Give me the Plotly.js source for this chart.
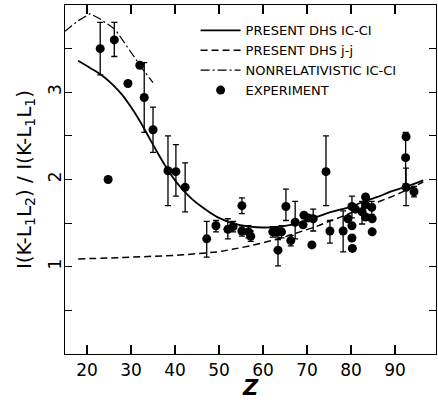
<!DOCTYPE html>
<html><head><meta charset="utf-8">
<script src="https://cdn.plot.ly/plotly-3.0.1.min.js"></script>
<style>html,body{margin:0;padding:0;background:#fff}#chart{width:438px;height:400px}</style>
</head><body><div id="chart"></div>
<script>
// Theory curves
const icciZ = [18, 20, 22, 24, 26, 28, 30, 32, 34, 36, 38, 40, 42, 44, 46, 48, 50, 53, 57, 60, 64, 68, 71, 75, 80, 83, 86, 89, 92.7, 96.4];
const icciV = [3.36, 3.30, 3.24, 3.17, 3.08, 2.97, 2.83, 2.67, 2.49, 2.31, 2.14, 1.99, 1.87, 1.77, 1.69, 1.62, 1.56, 1.50, 1.46, 1.45, 1.46, 1.50, 1.55, 1.62, 1.69, 1.75, 1.80, 1.86, 1.92, 1.99];
const jjZ = [18, 25, 30, 35, 40, 45, 49.5, 53, 57, 62, 66, 68.4, 72, 75, 78.2, 82, 86, 90, 93, 96.4];
const jjV = [1.09, 1.10, 1.11, 1.12, 1.13, 1.15, 1.17, 1.20, 1.24, 1.30, 1.36, 1.40, 1.46, 1.52, 1.58, 1.66, 1.74, 1.82, 1.89, 1.97];
const nrZ = [15, 18, 20.7, 23, 26.4, 30.5, 33, 35];
const nrV = [3.70, 3.82, 3.90, 3.84, 3.72, 3.42, 3.24, 3.11];

// Experiment
const expZ = [23, 24.8, 26.2, 29.3, 32, 33, 35, 38.4, 40.2, 42.3, 47.2, 49.3, 52, 53.2, 55.2, 55.2, 56.7, 57.2, 62.2, 63.4, 63.2, 64.2, 65.2, 66.3, 67.3, 69.1, 69.3, 70.3, 71.4, 71.1, 74.3, 75.2, 78.2, 79.3, 80.2, 81, 80.2, 80.2, 80.3, 82.5, 83.3, 83.3, 83.3, 84.7, 84.8, 84.8, 92.5, 92.4, 92.5, 94.3];
const expV = [3.50, 2.00, 3.60, 3.10, 3.31, 2.94, 2.57, 2.10, 2.09, 1.91, 1.32, 1.47, 1.43, 1.46, 1.70, 1.41, 1.40, 1.35, 1.40, 1.19, 1.40, 1.40, 1.69, 1.30, 1.51, 1.48, 1.59, 1.56, 1.55, 1.25, 2.09, 1.41, 1.41, 1.55, 1.69, 1.66, 1.47, 1.33, 1.21, 1.63, 1.80, 1.71, 1.57, 1.68, 1.55, 1.40, 2.49, 2.25, 1.91, 1.86];
const errUp = [0.30, null, 0.20, null, null, 0.40, 0.26, 0.40, 0.31, 0.28, 0.20, 0.06, 0.12, 0.06, 0.09, 0.06, 0.07, 0.06, 0.06, 0.12, 0.06, 0.07, 0.20, 0.06, 0.24, null, null, null, 0.11, null, 0.41, 0.12, 0.23, null, 0.12, null, null, null, null, 0.12, null, null, null, 0.07, null, null, null, 0.29, 0.22, 0.06];
const errDn = [0.30, null, 0.19, null, null, 0.40, 0.26, 0.40, 0.28, 0.28, 0.21, 0.07, 0.11, 0.06, 0.09, 0.06, 0.07, 0.06, 0.06, 0.18, 0.06, 0.07, 0.16, 0.06, 0.19, null, null, null, 0.14, null, 0.39, 0.14, 0.24, null, 0.13, null, null, null, null, 0.14, null, null, null, 0.08, null, null, null, 0.30, 0.21, 0.06];

const legendNames = ['PRESENT DHS IC-CI', 'PRESENT DHS j-j', 'NONRELATIVISTIC IC-CI', 'EXPERIMENT'];
const yTickVals = [0.5, 1, 1.5, 2, 2.5, 3, 3.5];
const yTickText = ['', '1', '', '2', '', '3', ''];
const xTickVals = [20, 30, 40, 50, 60, 70, 80, 90];

const font = 'DejaVu Sans, Liberation Sans, Arial, sans-serif';
const traces = [
  {x: icciZ, y: icciV, name: legendNames[0], mode: 'lines', line: {color: '#000', width: 1.8, shape: 'spline', smoothing: 0.6}},
  {x: jjZ, y: jjV, name: legendNames[1], mode: 'lines', line: {color: '#000', width: 1.5, dash: '7px,4px', shape: 'spline'}},
  {x: nrZ, y: nrV, name: legendNames[2], mode: 'lines', line: {color: '#000', width: 1.2, dash: '9px,3px,2px,3px'}},
  {x: expZ, y: expV, name: legendNames[3], mode: 'markers', marker: {color: '#000', size: 9},
   error_y: {type: 'data', symmetric: false, array: errUp, arrayminus: errDn, color: '#000', thickness: 1.3, width: 3}}
];
const layout = {
  width: 438, height: 400,
  margin: {l: 65, r: 2, t: 5, b: 46},
  paper_bgcolor: '#fff', plot_bgcolor: '#fff',
  font: {family: font, color: '#000'},
  showlegend: true,
  legend: {x: 0.352, y: 0.97, xanchor: 'left', yanchor: 'top', bgcolor: 'rgba(0,0,0,0)',
           font: {size: 13, family: font, color: '#000'}, tracegroupgap: 0, itemwidth: 40},
  xaxis: {range: [15, 99.3], showgrid: false, zeroline: false, showline: true, linecolor: '#000', linewidth: 1.2,
          mirror: 'allticks', ticks: 'inside', ticklen: 9, tickwidth: 1.2, tickcolor: '#000',
          tickvals: xTickVals, tickfont: {size: 17, family: font},
          title: {text: '<b><i>Z</i></b>', font: {size: 21, family: font}, standoff: 4}},
  yaxis: {range: [0, 4], showgrid: false, zeroline: false, showline: true, linecolor: '#000', linewidth: 1.2,
          mirror: 'allticks', ticks: 'inside', ticklen: 7, tickwidth: 1.2, tickcolor: '#000',
          tickvals: yTickVals, ticktext: yTickText, tickangle: -90, ticklabelstandoff: -4, tickfont: {size: 17, family: font},
          title: {text: 'I(K-L<sub>1</sub>L<sub>2</sub>) / I(K-L<sub>1</sub>L<sub>1</sub>)', font: {size: 20, family: font}, standoff: 8}}
};
Plotly.newPlot('chart', traces, layout, {displayModeBar: false, staticPlot: true});
</script></body></html>
